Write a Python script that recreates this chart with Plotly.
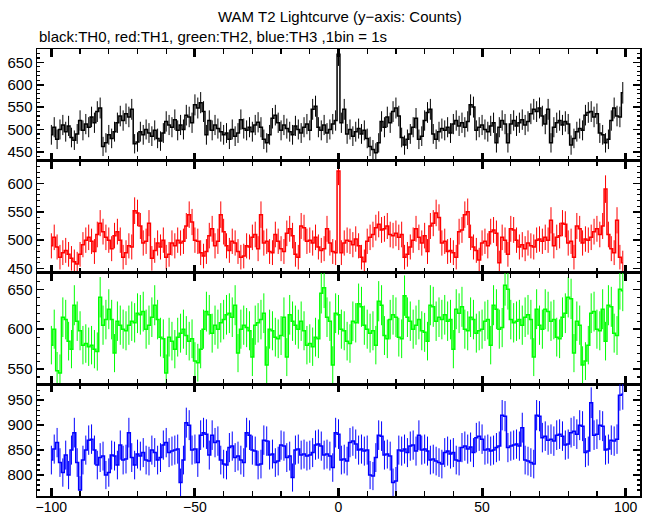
import numpy as np
import plotly.graph_objects as go
from plotly.subplots import make_subplots

time_s = list(range(-100, 100))

th0_counts = [
    488, 505, 478, 500, 510, 495, 508, 482, 476, 490,
    520, 498, 512, 505, 528, 515, 540, 548, 462, 470,
    488, 480, 495, 515, 530, 520, 535, 528, 545, 468,
    472, 495, 488, 500, 492, 485, 498, 480, 474, 492,
    518, 510, 505, 522, 498, 510, 500, 532, 528, 515,
    555, 548, 560, 540, 488, 520, 498, 510, 502, 495,
    488, 492, 478, 500, 485, 492, 522, 502, 498, 505,
    495, 510, 516, 505, 478, 470, 488, 525, 532, 515,
    498, 510, 502, 495, 488, 508, 500, 492, 505, 512,
    498, 545, 552, 505, 498, 510, 492, 500, 512, 520,
    668, 515, 545, 490, 500, 485, 495, 502, 490, 498,
    480, 462, 455, 448, 470, 518, 505, 528, 515, 540,
    548, 530, 482, 465, 478, 490, 505, 525, 478, 485,
    520, 538, 545, 490, 478, 495, 502, 498, 505, 492,
    512, 520, 508, 515, 505, 518, 555, 550, 498, 505,
    510, 500, 495, 508, 515, 470, 505, 520, 512, 470,
    512, 520, 508, 515, 522, 510, 518, 535, 545, 540,
    548, 530, 512, 545, 470, 505, 515, 520, 510, 518,
    512, 465, 480, 495, 502, 498, 532, 538, 540, 528,
    535, 492, 488, 470, 478, 520, 548, 530, 528, 582,
]

th1_counts = [
    490, 505, 488, 470, 478, 482, 475, 468, 462, 458,
    475, 492, 500, 505, 498, 480, 510, 530, 515, 505,
    500, 485, 508, 515, 500, 470, 478, 490, 488, 552,
    548, 525, 495, 498, 530, 468, 482, 495, 488, 500,
    470, 475, 495, 490, 500, 495, 498, 525, 545, 532,
    500, 498, 478, 472, 480, 508, 520, 490, 498, 545,
    515, 490, 482, 498, 495, 480, 470, 472, 490, 488,
    505, 510, 485, 545, 495, 498, 480, 478, 510, 498,
    485, 480, 512, 520, 508, 475, 470, 525, 522, 498,
    500, 495, 505, 488, 482, 485, 520, 495, 480, 478,
    622, 478, 495, 500, 498, 492, 502, 490, 470, 462,
    498, 505, 510, 522, 528, 518, 520, 525, 510, 508,
    512, 505, 510, 470, 475, 488, 500, 520, 505, 495,
    508, 480, 525, 530, 548, 540, 495, 498, 480, 482,
    478, 470, 515, 518, 545, 550, 505, 488, 482, 465,
    495, 498, 490, 515, 518, 512, 460, 505, 500, 475,
    520, 518, 500, 488, 492, 485, 495, 490, 488, 500,
    502, 498, 505, 500, 535, 490, 505, 508, 530, 528,
    495, 498, 470, 525, 520, 495, 502, 500, 505, 515,
    520, 510, 525, 590, 510, 485, 478, 535, 470, 460,
]

th2_counts = [
    580, 600, 548, 545, 615, 612, 585, 575, 630, 610,
    598, 580, 582, 578, 580, 575, 572, 640, 605, 612,
    625, 612, 570, 610, 605, 600, 598, 605, 610, 608,
    620, 618, 622, 600, 605, 615, 630, 612, 590, 588,
    545, 590, 585, 575, 590, 595, 600, 592, 585, 588,
    560, 558, 575, 600, 622, 618, 595, 605, 600, 608,
    612, 618, 620, 615, 630, 570, 600, 605, 602, 598,
    565, 605, 608, 612, 620, 555, 600, 598, 590, 588,
    592, 615, 565, 618, 610, 605, 600, 610, 598, 580,
    582, 578, 590, 588, 645, 652, 615, 610, 555, 620,
    618, 600, 598, 585, 582, 610, 608, 632, 628, 605,
    600, 595, 598, 580, 635, 630, 592, 588, 612, 618,
    615, 590, 588, 642, 615, 610, 600, 605, 612, 598,
    596, 585, 630, 628, 610, 615, 612, 618, 610, 612,
    575, 625, 620, 628, 600, 598, 615, 612, 595, 598,
    600, 610, 612, 580, 630, 625, 600, 602, 655, 650,
    612, 608, 610, 612, 605, 615, 618, 612, 565, 625,
    605, 600, 625, 622, 610, 612, 590, 588, 615, 620,
    640, 638, 570, 610, 605, 555, 560, 580, 620, 622,
    600, 598, 625, 585, 630, 628, 595, 592, 650, 648,
]

th3_counts = [
    830, 852, 865, 825, 805, 840, 800, 850, 885, 825,
    770, 830, 850, 870, 872, 850, 820, 835, 838, 800,
    805, 840, 838, 820, 860, 830, 832, 885, 835, 820,
    842, 838, 845, 830, 828, 850, 845, 830, 835, 860,
    865, 845, 848, 850, 852, 785, 830, 905, 900, 850,
    852, 825, 880, 885, 882, 840, 880, 865, 868, 830,
    822, 820, 855, 858, 835, 838, 830, 825, 885, 880,
    850, 848, 820, 822, 870, 868, 840, 842, 825, 828,
    860, 858, 835, 838, 795, 850, 852, 840, 842, 838,
    840, 845, 860, 862, 858, 840, 842, 838, 815, 885,
    882, 830, 832, 828, 865, 868, 862, 850, 852, 848,
    850, 800, 798, 835, 880, 878, 840, 842, 838, 785,
    788, 850, 848, 852, 845, 858, 860, 848, 880, 850,
    852, 848, 830, 832, 828, 825, 822, 845, 848, 842,
    845, 830, 828, 855, 858, 852, 856, 845, 875, 878,
    872, 850, 852, 848, 850, 855, 858, 920, 918, 855,
    858, 860, 862, 858, 895, 830, 828, 825, 822, 920,
    918, 875, 878, 870, 872, 868, 880, 882, 878, 860,
    862, 885, 888, 882, 900, 898, 845, 848, 945, 880,
    882, 900, 898, 850, 852, 870, 868, 872, 960, 962,
]

series = [th0_counts, th1_counts, th2_counts, th3_counts]
colors = ["#000000", "#ff0000", "#00ff00", "#0000ff"]
y_ranges = [[430, 680], [443, 640], [531, 671], [758, 982]]
x_range = [-105, 105]

title_text = "WAM T2 Lightcurve (y\u2212axis: Counts)"
subtitle_text = "black:TH0, red:TH1, green:TH2, blue:TH3 ,1bin = 1s"

FONT = "Liberation Sans, Arial"

fig = make_subplots(rows=4, cols=1, shared_xaxes=True, vertical_spacing=0)

for i, (vals, col) in enumerate(zip(series, colors)):
    v = np.array(vals, dtype=float)
    fig.add_trace(
        go.Scatter(
            x=time_s, y=v, mode="lines",
            line=dict(color=col, width=1.5, shape="hvh"),
            error_y=dict(type="data", array=np.sqrt(v), width=0,
                         thickness=1, color=col),
            showlegend=False, hoverinfo="skip",
        ),
        row=i + 1, col=1,
    )
    fig.update_yaxes(
        range=y_ranges[i], dtick=50, ticks="inside", ticklen=7, tickwidth=1.5,
        showline=True, linecolor="black", linewidth=1.5, mirror="allticks",
        showgrid=False, zeroline=False, tickcolor="black", automargin=False,
        minor=dict(dtick=10, ticks="inside", ticklen=3, tickcolor="black",
                   tickwidth=1.2, showgrid=False),
        tickfont=dict(size=15, color="black", family=FONT),
        row=i + 1, col=1,
    )
    fig.update_xaxes(
        range=x_range, dtick=50, tick0=0, ticks="inside", ticklen=8, tickwidth=3,
        showline=True, linecolor="black", linewidth=1.5, mirror="allticks",
        showgrid=False, zeroline=False, tickcolor="black", automargin=False,
        minor=dict(dtick=10, ticks="inside", ticklen=5, tickcolor="black",
                   tickwidth=1.2, showgrid=False),
        tickfont=dict(size=14, color="black", family=FONT),
        ticklabelstandoff=-2,
        row=i + 1, col=1,
    )

fig.add_annotation(text=title_text, xref="paper", yref="paper",
                   x=0.502, y=1.0716, xanchor="center", yanchor="middle",
                   showarrow=False,
                   font=dict(size=15, color="black", family=FONT))
fig.add_annotation(text=subtitle_text, xref="paper", yref="paper",
                   x=0.0, y=1.027, xanchor="left", yanchor="middle",
                   showarrow=False,
                   font=dict(size=15, color="black", family=FONT))

fig.update_layout(
    width=653, height=515,
    margin=dict(l=37, r=13, t=49, b=19),
    paper_bgcolor="white", plot_bgcolor="white",
    font=dict(family=FONT, color="black"),
)

fig.write_html("out.html", config={"displayModeBar": False, "staticPlot": True})

# remove the browser's default page margin so the figure sits at the corner
with open("out.html", "r", encoding="utf-8") as f:
    html = f.read()
html = html.replace("<head>", "<head><style>html,body{margin:0;padding:0;overflow:hidden;}</style>", 1)
with open("out.html", "w", encoding="utf-8") as f:
    f.write(html)
